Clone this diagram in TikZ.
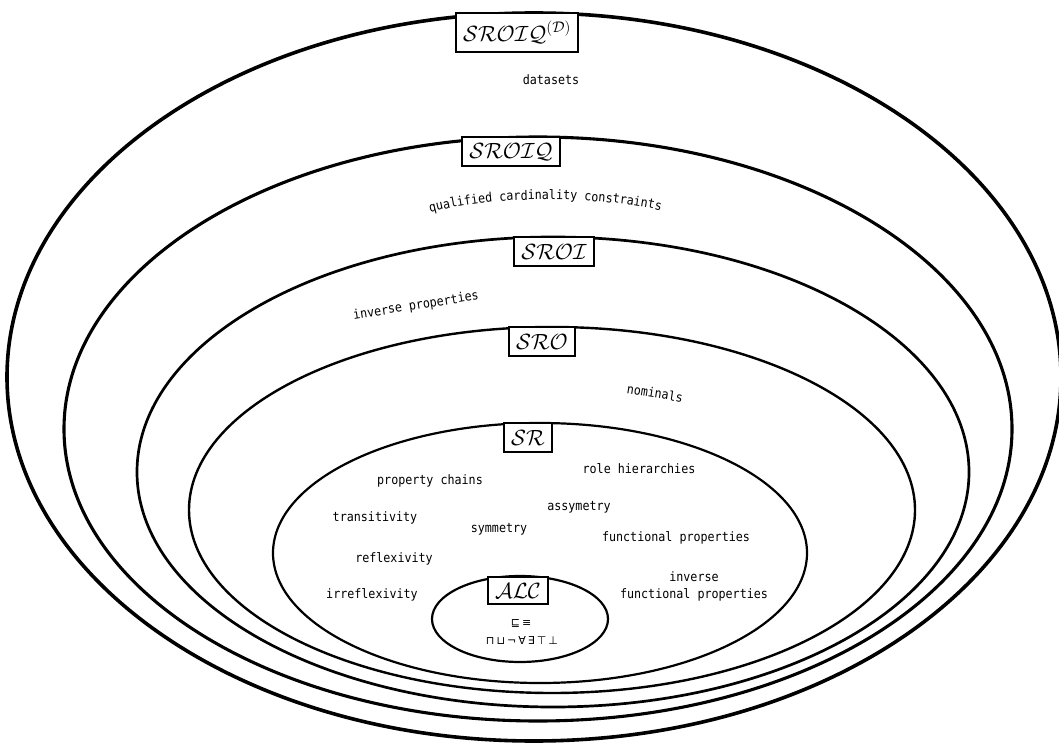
\RequirePackage{fix-cm}
\documentclass[tikz,border=0pt]{standalone}
\usepackage{fontspec}
\newfontfamily\handfont[FakeStretch=0.9]{DejaVu Sans Mono}
\newfontfamily\opfont{DejaVu Sans}
\usetikzlibrary{decorations.text}
\begin{document}
\begin{tikzpicture}[x=1pt,y=1pt,
  tag/.style={draw, line width=2.2pt, fill=white, anchor=north,
    inner xsep=7pt, inner ysep=0pt, minimum height=29pt,
    font=\fontsize{22}{22}\selectfont},
  feat/.style={font=\handfont\fontsize{13}{17}\selectfont, align=center, inner sep=0pt},
  ops/.style={font=\opfont\fontsize{11}{14}\selectfont, align=center, inner sep=0pt}]
\useasboundingbox (0,0) rectangle (1059,745);

% nested language levels, outermost first
\draw[line width=3.6pt] (534,368) ellipse [x radius=527pt, y radius=364pt];
\draw[line width=3.1pt] (538,316) ellipse [x radius=474pt, y radius=292pt];
\draw[line width=2.7pt] (553,273) ellipse [x radius=416pt, y radius=235pt];
\draw[line width=2.4pt] (552,235) ellipse [x radius=363pt, y radius=183pt];
\draw[line width=2.2pt] (540,192) ellipse [x radius=267pt, y radius=130pt];
\draw[line width=2.2pt] (520,126) ellipse [x radius=88pt, y radius=43pt];

% level names
\node[tag, minimum height=39pt] (dlD) at (517,733) {$\mathcal{SROIQ}^{(\mathcal{D})}$};
\node[tag] (dlQ) at (511,609) {$\mathcal{SROIQ}$};
\node[tag] (dlI) at (554,509) {$\mathcal{SROI}$};
\node[tag] (dlO) at (542,419) {$\mathcal{SRO}$};
\node[tag] (dlR) at (528,323) {$\mathcal{SR}$};
\node[tag, minimum height=27pt] (dlA) at (518,169) {$\mathcal{ALC}$};

% features added at each level
\node[feat] (datasets) at (551,665) {datasets};
\path[decorate, decoration={text along path, text align=center,
    text={|\handfont\fontsize{13}{17}\selectfont|qualified cardinality constraints}}]
  (424,531) .. controls (490,550) and (595,550) .. (667,533);
\node[feat, rotate=9] (inverse) at (416,439) {inverse properties};
\node[feat, rotate=-9] (nominals) at (655,352) {nominals};

\node[feat] (chains) at (430,264) {property chains};
\node[feat] (hier) at (639,276) {role hierarchies};
\node[feat] (asym) at (579,238) {assymetry};
\node[feat] (trans) at (375,227) {transitivity};
\node[feat] (sym) at (499,216) {symmetry};
\node[feat] (func) at (676,207) {functional properties};
\node[feat] (refl) at (394,186) {reflexivity};
\node[feat] (invfunc) at (694,159) {inverse\\functional properties};
\node[feat] (irrefl) at (372,150) {irreflexivity};

% ALC constructors
\node[ops] (axioms) at (521,122) {⊑\hspace{2pt}≡};
\node[ops] (constructors) at (522,105) {⊓\hspace{2pt}⊔\hspace{2pt}¬\hspace{2pt}∀\hspace{2pt}∃\hspace{2pt}⊤\hspace{2pt}⊥};
\end{tikzpicture}
\end{document}
